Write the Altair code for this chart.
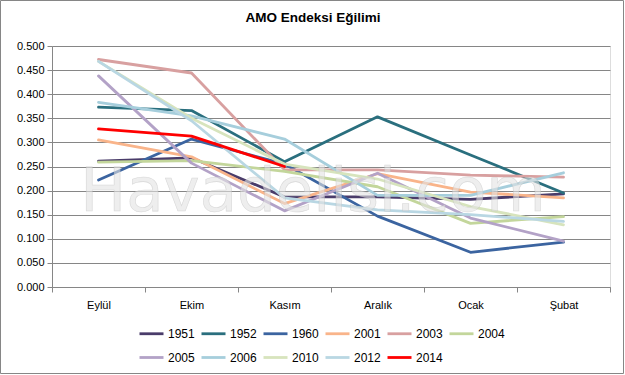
import altair as alt
import pandas as pd

months = ["Eylül", "Ekim", "Kasım", "Aralık", "Ocak", "Şubat"]
years = ["1951", "1952", "1960", "2001", "2003", "2004", "2005", "2006", "2010", "2012", "2014"]

v1951 = [0.261, 0.268, 0.187, 0.187, 0.182, 0.193]
v1952 = [0.373, 0.366, 0.260, 0.353, 0.274, 0.195]
v1960 = [0.222, 0.307, 0.255, 0.147, 0.072, 0.093]
v2001 = [0.305, 0.270, 0.173, 0.235, 0.197, 0.185]
v2003 = [0.472, 0.444, 0.243, 0.243, 0.232, 0.228]
v2004 = [0.259, 0.262, 0.240, 0.208, 0.132, 0.146]
v2005 = [0.438, 0.257, 0.158, 0.236, 0.143, 0.095]
v2006 = [0.383, 0.355, 0.307, 0.190, 0.190, 0.237]
v2010 = [0.468, 0.350, 0.255, 0.224, 0.167, 0.129]
v2012 = [0.468, 0.345, 0.185, 0.160, 0.150, 0.136]
v2014 = [0.328, 0.313, 0.250]

colors = ["#4A3C6A", "#2A6F7E", "#3B64A0", "#F9B48A", "#D8A0A0", "#C3D69B",
          "#B3A2C7", "#A6CEDC", "#D7E4BD", "#B9D7E3", "#FF0000"]
widths = [2.8] * 10 + [4]

series = [v1951, v1952, v1960, v2001, v2003, v2004, v2005, v2006, v2010, v2012, v2014]
rows = []
for y, vals in zip(years, series):
    for m, v in zip(months, vals):
        rows.append({"year": y, "month": m, "value": v})
df = pd.DataFrame(rows)

font = "Liberation Sans"

lines = alt.Chart(df).mark_line(strokeCap="round", strokeJoin="round").encode(
    x=alt.X("month:N", sort=months, bandPosition=0.5,
            scale=alt.Scale(type="band", paddingInner=0, paddingOuter=0),
            axis=alt.Axis(title=None, labelAngle=0, tickBand="extent", grid=False,
                          domainColor="#868686", tickColor="#868686", tickSize=5,
                          labelPadding=7, labelFontSize=11, labelFont=font,
                          labelColor="#000000")),
    y=alt.Y("value:Q", scale=alt.Scale(domain=[0, 0.5], nice=False, zero=True),
            axis=alt.Axis(title=None, values=[i * 0.05 for i in range(11)], format=".3f",
                          grid=True, gridColor="#868686", gridWidth=1,
                          domainColor="#868686", tickColor="#868686", tickSize=5,
                          labelPadding=3, labelFontSize=11, labelFont=font,
                          labelColor="#000000")),
    color=alt.Color("year:N", scale=alt.Scale(domain=years, range=colors),
                    legend=alt.Legend(title=None, orient="none", legendX=86, legendY=274,
                                      direction="horizontal", columns=6,
                                      symbolType="stroke", symbolSize=576,
                                      symbolStrokeWidth=4, labelFontSize=12,
                                      labelFont=font, labelColor="#000000",
                                      labelOffset=3, columnPadding=0, rowPadding=4,
                                      padding=0)),
    strokeWidth=alt.StrokeWidth("year:N", scale=alt.Scale(domain=years, range=widths),
                                legend=None),
)

watermark = alt.Chart(pd.DataFrame({"t": ["Havadelisi.com"]})).mark_text(
    fontSize=61, font="DejaVu Sans", fill="#E2E2E2", fillOpacity=0.6,
    stroke="#BDBDBD", strokeWidth=0.6, strokeOpacity=0.5,
    align="center", baseline="alphabetic"
).encode(text="t:N", x=alt.value(261), y=alt.value(165))

title = alt.Chart(pd.DataFrame({"t": ["AMO Endeksi Eğilimi"]})).mark_text(
    fontSize=13.5, font=font, fontWeight="bold", color="#000000",
    align="center", baseline="middle"
).encode(text="t:N", x=alt.value(261), y=alt.value(-28))

border = alt.Chart(pd.DataFrame({"a": [1]})).mark_rect(
    fill=None, stroke="#868686", strokeWidth=1
).encode(x=alt.value(-51.5), x2=alt.value(571.5), y=alt.value(-45.5), y2=alt.value(327.5))

chart = alt.layer(lines, watermark, title, border).properties(
    width=558, height=241,
    padding={"left": 52, "top": 46, "right": 15, "bottom": 88},
    autosize=alt.AutoSizeParams(type="none"),
).configure_view(stroke=None).configure(background="white")

chart.save("out.html", embed_options={"renderer": "svg", "actions": False})
